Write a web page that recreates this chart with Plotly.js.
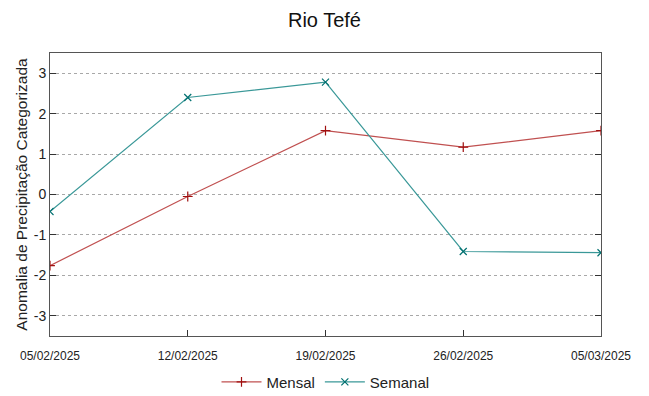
<!DOCTYPE html>
<html><head><meta charset="utf-8">
<script src="https://cdn.plot.ly/plotly-3.0.1.min.js"></script>
<style>html,body{margin:0;padding:0;background:#fff}</style>
</head><body>
<div id="chart" style="width:649px;height:396px"></div>
<script>
const dates = ["05/02/2025","12/02/2025","19/02/2025","26/02/2025","05/03/2025"];
const mensal = [-1.76, -0.05, 1.58, 1.17, 1.58];
const semanal = [-0.42, 2.40, 2.78, -1.41, -1.44];
const yTicks = [-3,-2,-1,0,1,2,3];
const yTickText = ["-3","-2","-1","0","1","2","3"];

const traces = [
  {x: dates, y: mensal, name: "Mensal", type: "scatter", mode: "lines+markers",
   line: {color: "#c05050", width: 1.2},
   marker: {symbol: "cross-thin", size: 7, line: {color: "#a01010", width: 1.2}, color: "#a01010"}},
  {x: dates, y: semanal, name: "Semanal", type: "scatter", mode: "lines+markers",
   line: {color: "#3a9898", width: 1.2},
   marker: {symbol: "x-thin", size: 7, line: {color: "#007070", width: 1.2}, color: "#007070"}}
];

const layout = {
  width: 649, height: 396,
  margin: {l: 50, r: 48, t: 53, b: 60, autoexpand: false},
  paper_bgcolor: "#fff", plot_bgcolor: "#fff",
  font: {family: "Liberation Sans, Arial, sans-serif", color: "#222"},
  title: {text: "Rio Tefé", x: 0.5, xanchor: "center", y: 0.95, yanchor: "middle",
          font: {size: 20, family: "Liberation Sans, Arial, sans-serif", color: "#111"}},
  xaxis: {type: "category", range: [0, 4], showgrid: false, zeroline: false, automargin: false,
          showline: true, mirror: true, linecolor: "#555", linewidth: 1,
          ticks: "inside", ticklen: 6, tickcolor: "#333", ticklabelstandoff: 9,
          tickfont: {size: 12, family: "Liberation Sans Narrow, Liberation Sans, sans-serif", color: "#222"}},
  yaxis: {range: [-3.5, 3.5], tickvals: yTicks, ticktext: yTickText, showgrid: true, gridcolor: "#a8a8a8",
          griddash: "dot", gridwidth: 1, zeroline: false, automargin: false,
          showline: true, mirror: "allticks", linecolor: "#555", linewidth: 1,
          ticks: "inside", ticklen: 6, tickcolor: "#333",
          tickfont: {size: 14, color: "#222"},
          title: {text: "Anomalia de Precipitação Categorizada", standoff: 2,
                  font: {size: 15.5, color: "#222"}}},
  showlegend: true,
  legend: {orientation: "h", x: 0.5, xanchor: "center", y: -0.163, yanchor: "middle",
           font: {size: 15, family: "Liberation Sans Narrow, Liberation Sans, sans-serif", color: "#222"},
           itemwidth: 40}
};

Plotly.newPlot("chart", traces, layout, {displayModeBar: false, staticPlot: true});
</script>
</body></html>
